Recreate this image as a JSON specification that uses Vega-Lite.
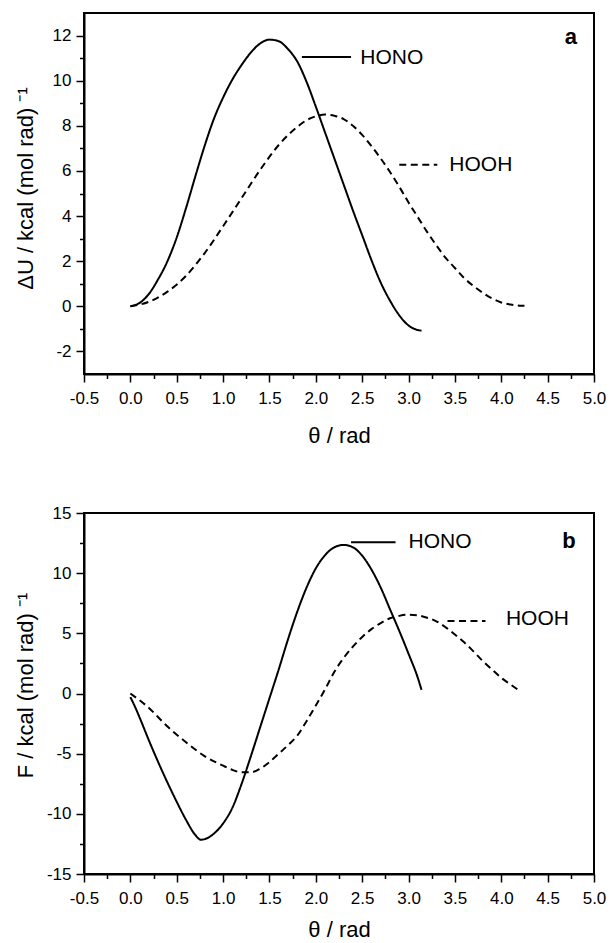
{
  "$schema": "https://vega.github.io/schema/vega-lite/v6.json",
  "padding": {"left": 13, "top": 12, "right": 8, "bottom": 2},
  "background": "white",
  "config": {
    "view": {"stroke": "black", "strokeWidth": 2},
    "font": "Liberation Sans",
    "axis": {
      "grid": false,
      "domainColor": "black",
      "domainWidth": 2,
      "tickColor": "black",
      "tickWidth": 1.5,
      "labelColor": "black",
      "titleColor": "black",
      "labelFont": "Liberation Sans",
      "labelFontSize": 17,
      "titleFont": "Liberation Sans",
      "titleFontSize": 22,
      "titleFontWeight": "normal"
    }
  },
  "datasets": {
    "curvesA": [
      {"molecule": "HONO", "theta": 0, "value": 0},
      {"molecule": "HONO", "theta": 0.1, "value": 0.15},
      {"molecule": "HONO", "theta": 0.2, "value": 0.55},
      {"molecule": "HONO", "theta": 0.3, "value": 1.2},
      {"molecule": "HONO", "theta": 0.4, "value": 2.0},
      {"molecule": "HONO", "theta": 0.5, "value": 3.05},
      {"molecule": "HONO", "theta": 0.6, "value": 4.35},
      {"molecule": "HONO", "theta": 0.7, "value": 5.75},
      {"molecule": "HONO", "theta": 0.8, "value": 7.1},
      {"molecule": "HONO", "theta": 0.9, "value": 8.3},
      {"molecule": "HONO", "theta": 1.0, "value": 9.25},
      {"molecule": "HONO", "theta": 1.1, "value": 10.05},
      {"molecule": "HONO", "theta": 1.2, "value": 10.7},
      {"molecule": "HONO", "theta": 1.3, "value": 11.25},
      {"molecule": "HONO", "theta": 1.4, "value": 11.65},
      {"molecule": "HONO", "theta": 1.5, "value": 11.82},
      {"molecule": "HONO", "theta": 1.6, "value": 11.75},
      {"molecule": "HONO", "theta": 1.7, "value": 11.4},
      {"molecule": "HONO", "theta": 1.8, "value": 10.85},
      {"molecule": "HONO", "theta": 1.9, "value": 9.95},
      {"molecule": "HONO", "theta": 2.0, "value": 8.85},
      {"molecule": "HONO", "theta": 2.1, "value": 7.7},
      {"molecule": "HONO", "theta": 2.2, "value": 6.55},
      {"molecule": "HONO", "theta": 2.3, "value": 5.4},
      {"molecule": "HONO", "theta": 2.4, "value": 4.25},
      {"molecule": "HONO", "theta": 2.5, "value": 3.15},
      {"molecule": "HONO", "theta": 2.6, "value": 2.05},
      {"molecule": "HONO", "theta": 2.7, "value": 1.05},
      {"molecule": "HONO", "theta": 2.8, "value": 0.25},
      {"molecule": "HONO", "theta": 2.9, "value": -0.4},
      {"molecule": "HONO", "theta": 3.0, "value": -0.85},
      {"molecule": "HONO", "theta": 3.1, "value": -1.05},
      {"molecule": "HONO", "theta": 3.14, "value": -1.08},
      {"molecule": "HOOH", "theta": 0, "value": 0},
      {"molecule": "HOOH", "theta": 0.2, "value": 0.2},
      {"molecule": "HOOH", "theta": 0.4, "value": 0.65},
      {"molecule": "HOOH", "theta": 0.6, "value": 1.35},
      {"molecule": "HOOH", "theta": 0.8, "value": 2.35},
      {"molecule": "HOOH", "theta": 1.0, "value": 3.55},
      {"molecule": "HOOH", "theta": 1.2, "value": 4.8},
      {"molecule": "HOOH", "theta": 1.4, "value": 6.05},
      {"molecule": "HOOH", "theta": 1.6, "value": 7.15},
      {"molecule": "HOOH", "theta": 1.8, "value": 7.95},
      {"molecule": "HOOH", "theta": 1.9, "value": 8.25},
      {"molecule": "HOOH", "theta": 2.0, "value": 8.42},
      {"molecule": "HOOH", "theta": 2.1, "value": 8.5},
      {"molecule": "HOOH", "theta": 2.2, "value": 8.45},
      {"molecule": "HOOH", "theta": 2.3, "value": 8.3},
      {"molecule": "HOOH", "theta": 2.4, "value": 8.0},
      {"molecule": "HOOH", "theta": 2.5, "value": 7.6},
      {"molecule": "HOOH", "theta": 2.6, "value": 7.1},
      {"molecule": "HOOH", "theta": 2.7, "value": 6.55},
      {"molecule": "HOOH", "theta": 2.8, "value": 5.95},
      {"molecule": "HOOH", "theta": 2.9, "value": 5.3},
      {"molecule": "HOOH", "theta": 3.0, "value": 4.6},
      {"molecule": "HOOH", "theta": 3.1, "value": 3.95},
      {"molecule": "HOOH", "theta": 3.2, "value": 3.3},
      {"molecule": "HOOH", "theta": 3.3, "value": 2.7},
      {"molecule": "HOOH", "theta": 3.4, "value": 2.15},
      {"molecule": "HOOH", "theta": 3.5, "value": 1.7},
      {"molecule": "HOOH", "theta": 3.6, "value": 1.25},
      {"molecule": "HOOH", "theta": 3.7, "value": 0.9},
      {"molecule": "HOOH", "theta": 3.8, "value": 0.6},
      {"molecule": "HOOH", "theta": 3.9, "value": 0.35},
      {"molecule": "HOOH", "theta": 4.0, "value": 0.17},
      {"molecule": "HOOH", "theta": 4.1, "value": 0.08},
      {"molecule": "HOOH", "theta": 4.2, "value": 0.03},
      {"molecule": "HOOH", "theta": 4.25, "value": 0.02}
    ],
    "curvesB": [
      {"molecule": "HONO", "theta": 0, "value": -0.3},
      {"molecule": "HONO", "theta": 0.05, "value": -1.1},
      {"molecule": "HONO", "theta": 0.1, "value": -2.0},
      {"molecule": "HONO", "theta": 0.2, "value": -3.9},
      {"molecule": "HONO", "theta": 0.3, "value": -5.7},
      {"molecule": "HONO", "theta": 0.4, "value": -7.4},
      {"molecule": "HONO", "theta": 0.5, "value": -9.0},
      {"molecule": "HONO", "theta": 0.6, "value": -10.5},
      {"molecule": "HONO", "theta": 0.7, "value": -11.75},
      {"molecule": "HONO", "theta": 0.76, "value": -12.15},
      {"molecule": "HONO", "theta": 0.82, "value": -12.05},
      {"molecule": "HONO", "theta": 0.9, "value": -11.65},
      {"molecule": "HONO", "theta": 1.0, "value": -10.8},
      {"molecule": "HONO", "theta": 1.1, "value": -9.5},
      {"molecule": "HONO", "theta": 1.2, "value": -7.5},
      {"molecule": "HONO", "theta": 1.3, "value": -5.2},
      {"molecule": "HONO", "theta": 1.4, "value": -2.8},
      {"molecule": "HONO", "theta": 1.5, "value": -0.4},
      {"molecule": "HONO", "theta": 1.6, "value": 2.0},
      {"molecule": "HONO", "theta": 1.7, "value": 4.5},
      {"molecule": "HONO", "theta": 1.8, "value": 6.8},
      {"molecule": "HONO", "theta": 1.9, "value": 8.8},
      {"molecule": "HONO", "theta": 2.0, "value": 10.4},
      {"molecule": "HONO", "theta": 2.1, "value": 11.5},
      {"molecule": "HONO", "theta": 2.2, "value": 12.15},
      {"molecule": "HONO", "theta": 2.3, "value": 12.35},
      {"molecule": "HONO", "theta": 2.4, "value": 12.15},
      {"molecule": "HONO", "theta": 2.5, "value": 11.45},
      {"molecule": "HONO", "theta": 2.6, "value": 10.3},
      {"molecule": "HONO", "theta": 2.7, "value": 8.8},
      {"molecule": "HONO", "theta": 2.8, "value": 7.0},
      {"molecule": "HONO", "theta": 2.9, "value": 5.2},
      {"molecule": "HONO", "theta": 3.0, "value": 3.3},
      {"molecule": "HONO", "theta": 3.1, "value": 1.3},
      {"molecule": "HONO", "theta": 3.14, "value": 0.3},
      {"molecule": "HOOH", "theta": 0, "value": 0},
      {"molecule": "HOOH", "theta": 0.2, "value": -1.2},
      {"molecule": "HOOH", "theta": 0.4, "value": -2.75},
      {"molecule": "HOOH", "theta": 0.6, "value": -4.05},
      {"molecule": "HOOH", "theta": 0.8, "value": -5.2},
      {"molecule": "HOOH", "theta": 1.0, "value": -6.0},
      {"molecule": "HOOH", "theta": 1.1, "value": -6.35},
      {"molecule": "HOOH", "theta": 1.2, "value": -6.55},
      {"molecule": "HOOH", "theta": 1.3, "value": -6.55},
      {"molecule": "HOOH", "theta": 1.4, "value": -6.25},
      {"molecule": "HOOH", "theta": 1.5, "value": -5.7},
      {"molecule": "HOOH", "theta": 1.6, "value": -5.0},
      {"molecule": "HOOH", "theta": 1.7, "value": -4.3},
      {"molecule": "HOOH", "theta": 1.8, "value": -3.5},
      {"molecule": "HOOH", "theta": 1.9, "value": -2.3},
      {"molecule": "HOOH", "theta": 2.0, "value": -1.0},
      {"molecule": "HOOH", "theta": 2.1, "value": 0.35},
      {"molecule": "HOOH", "theta": 2.2, "value": 1.8},
      {"molecule": "HOOH", "theta": 2.3, "value": 2.95},
      {"molecule": "HOOH", "theta": 2.4, "value": 3.9},
      {"molecule": "HOOH", "theta": 2.5, "value": 4.7},
      {"molecule": "HOOH", "theta": 2.6, "value": 5.35},
      {"molecule": "HOOH", "theta": 2.7, "value": 5.85},
      {"molecule": "HOOH", "theta": 2.8, "value": 6.25},
      {"molecule": "HOOH", "theta": 2.9, "value": 6.45},
      {"molecule": "HOOH", "theta": 3.0, "value": 6.55},
      {"molecule": "HOOH", "theta": 3.1, "value": 6.5},
      {"molecule": "HOOH", "theta": 3.2, "value": 6.3},
      {"molecule": "HOOH", "theta": 3.3, "value": 6.0},
      {"molecule": "HOOH", "theta": 3.4, "value": 5.5},
      {"molecule": "HOOH", "theta": 3.5, "value": 4.9},
      {"molecule": "HOOH", "theta": 3.6, "value": 4.25},
      {"molecule": "HOOH", "theta": 3.7, "value": 3.5},
      {"molecule": "HOOH", "theta": 3.8, "value": 2.7},
      {"molecule": "HOOH", "theta": 3.9, "value": 2.0},
      {"molecule": "HOOH", "theta": 4.0, "value": 1.3},
      {"molecule": "HOOH", "theta": 4.1, "value": 0.75},
      {"molecule": "HOOH", "theta": 4.2, "value": 0.2}
    ],
    "keyLinesA": [
      {"molecule": "HONO", "theta": 1.85, "value": 11.05},
      {"molecule": "HONO", "theta": 2.38, "value": 11.05},
      {"molecule": "HOOH", "theta": 2.9, "value": 6.27},
      {"molecule": "HOOH", "theta": 3.31, "value": 6.27}
    ],
    "keyTextA": [
      {"label": "HONO", "theta": 2.48, "value": 10.75},
      {"label": "HOOH", "theta": 3.44, "value": 6.0}
    ],
    "panelA": [{"label": "a", "theta": 4.75, "value": 11.64}],
    "keyLinesB": [
      {"molecule": "HONO", "theta": 2.38, "value": 12.56},
      {"molecule": "HONO", "theta": 2.86, "value": 12.56},
      {"molecule": "HOOH", "theta": 3.42, "value": 6.02},
      {"molecule": "HOOH", "theta": 3.83, "value": 6.02}
    ],
    "keyTextB": [
      {"label": "HONO", "theta": 3.0, "value": 12.09},
      {"label": "HOOH", "theta": 4.05, "value": 5.69}
    ],
    "panelB": [{"label": "b", "theta": 4.73, "value": 12.09}]
  },
  "bounds": "flush",
  "spacing": 139,
  "vconcat": [
    {
      "width": 510,
      "height": 361,
      "resolve": {"axis": {"x": "independent", "y": "independent"}},
      "layer": [
        {
          "data": {"name": "curvesA"},
          "mark": {"type": "line", "color": "black", "strokeWidth": 2, "interpolate": "monotone"},
          "encoding": {
            "x": {
              "field": "theta", "type": "quantitative",
              "scale": {"domain": [-0.5, 5], "nice": false, "zero": false},
              "axis": {
                "orient": "bottom",
                "values": [-0.5, 0, 0.5, 1, 1.5, 2, 2.5, 3, 3.5, 4, 4.5, 5],
                "labelExpr": "(datum.value < 0 ? '-' : '') + format(abs(datum.value), '.1f')",
                "tickSize": 8, "labelPadding": 8, "labelFlush": false, "labelOverlap": false,
                "title": "θ / rad", "titleY": 68, "titleBaseline": "alphabetic"
              }
            },
            "y": {
              "field": "value", "type": "quantitative",
              "scale": {"domain": [-3, 13], "nice": false, "zero": false},
              "axis": {
                "orient": "left",
                "values": [-2, 0, 2, 4, 6, 8, 10, 12],
                "labelExpr": "(datum.value < 0 ? '-' : '') + format(abs(datum.value), 'd')",
                "tickSize": 8, "labelPadding": 5, "labelFlush": false, "labelOverlap": false,
                "title": "ΔU / kcal (mol rad) ⁻¹", "titleAngle": 270, "titleBaseline": "alphabetic",
                "titleX": -52, "titleY": 175
              }
            },
            "strokeDash": {
              "field": "molecule", "type": "nominal",
              "scale": {"domain": ["HONO", "HOOH"], "range": [[1, 0], [7, 4.5]]},
              "legend": null
            }
          }
        },
        {
          "data": {"name": "keyLinesA"},
          "mark": {"type": "line", "color": "black", "strokeWidth": 2},
          "encoding": {
            "x": {
              "field": "theta", "type": "quantitative",
              "axis": {
                "orient": "bottom",
                "values": [-0.25, 0.25, 0.75, 1.25, 1.75, 2.25, 2.75, 3.25, 3.75, 4.25, 4.75],
                "tickSize": 4.5, "labels": false, "domain": false, "title": null
              }
            },
            "y": {
              "field": "value", "type": "quantitative",
              "axis": {
                "orient": "left",
                "values": [-1, 1, 3, 5, 7, 9, 11],
                "tickSize": 4.5, "labels": false, "domain": false, "title": null
              }
            },
            "strokeDash": {
              "field": "molecule", "type": "nominal",
              "scale": {"domain": ["HONO", "HOOH"], "range": [[1, 0], [7, 4.5]]},
              "legend": null
            }
          }
        },
        {
          "data": {"name": "keyTextA"},
          "mark": {"type": "text", "align": "left", "baseline": "alphabetic", "fontSize": 21, "font": "Liberation Sans", "color": "black"},
          "encoding": {
            "x": {"field": "theta", "type": "quantitative", "axis": null},
            "y": {"field": "value", "type": "quantitative", "axis": null},
            "text": {"field": "label", "type": "nominal"}
          }
        },
        {
          "data": {"name": "panelA"},
          "mark": {"type": "text", "align": "center", "baseline": "alphabetic", "fontSize": 22, "fontWeight": "bold", "font": "Liberation Sans", "color": "black"},
          "encoding": {
            "x": {"field": "theta", "type": "quantitative", "axis": null},
            "y": {"field": "value", "type": "quantitative", "axis": null},
            "text": {"field": "label", "type": "nominal"}
          }
        }
      ]
    },
    {
      "width": 510,
      "height": 361,
      "resolve": {"axis": {"x": "independent", "y": "independent"}},
      "layer": [
        {
          "data": {"name": "curvesB"},
          "mark": {"type": "line", "color": "black", "strokeWidth": 2, "interpolate": "monotone"},
          "encoding": {
            "x": {
              "field": "theta", "type": "quantitative",
              "scale": {"domain": [-0.5, 5], "nice": false, "zero": false},
              "axis": {
                "orient": "bottom",
                "values": [-0.5, 0, 0.5, 1, 1.5, 2, 2.5, 3, 3.5, 4, 4.5, 5],
                "labelExpr": "(datum.value < 0 ? '-' : '') + format(abs(datum.value), '.1f')",
                "tickSize": 8, "labelPadding": 8, "labelFlush": false, "labelOverlap": false,
                "title": "θ / rad", "titleY": 62, "titleBaseline": "alphabetic"
              }
            },
            "y": {
              "field": "value", "type": "quantitative",
              "scale": {"domain": [-15, 15], "nice": false, "zero": false},
              "axis": {
                "orient": "left",
                "values": [-15, -10, -5, 0, 5, 10, 15],
                "labelExpr": "(datum.value < 0 ? '-' : '') + format(abs(datum.value), 'd')",
                "tickSize": 8, "labelPadding": 5, "labelFlush": false, "labelOverlap": false,
                "title": "F / kcal (mol rad) ⁻¹", "titleAngle": 270, "titleBaseline": "alphabetic",
                "titleX": -52, "titleY": 172
              }
            },
            "strokeDash": {
              "field": "molecule", "type": "nominal",
              "scale": {"domain": ["HONO", "HOOH"], "range": [[1, 0], [7, 4.5]]},
              "legend": null
            }
          }
        },
        {
          "data": {"name": "keyLinesB"},
          "mark": {"type": "line", "color": "black", "strokeWidth": 2},
          "encoding": {
            "x": {
              "field": "theta", "type": "quantitative",
              "axis": {
                "orient": "bottom",
                "values": [-0.25, 0.25, 0.75, 1.25, 1.75, 2.25, 2.75, 3.25, 3.75, 4.25, 4.75],
                "tickSize": 4.5, "labels": false, "domain": false, "title": null
              }
            },
            "y": {
              "field": "value", "type": "quantitative",
              "axis": {
                "orient": "left",
                "values": [-12.5, -7.5, -2.5, 2.5, 7.5, 12.5],
                "tickSize": 4.5, "labels": false, "domain": false, "title": null
              }
            },
            "strokeDash": {
              "field": "molecule", "type": "nominal",
              "scale": {"domain": ["HONO", "HOOH"], "range": [[1, 0], [7, 4.5]]},
              "legend": null
            }
          }
        },
        {
          "data": {"name": "keyTextB"},
          "mark": {"type": "text", "align": "left", "baseline": "alphabetic", "fontSize": 21, "font": "Liberation Sans", "color": "black"},
          "encoding": {
            "x": {"field": "theta", "type": "quantitative", "axis": null},
            "y": {"field": "value", "type": "quantitative", "axis": null},
            "text": {"field": "label", "type": "nominal"}
          }
        },
        {
          "data": {"name": "panelB"},
          "mark": {"type": "text", "align": "center", "baseline": "alphabetic", "fontSize": 22, "fontWeight": "bold", "font": "Liberation Sans", "color": "black"},
          "encoding": {
            "x": {"field": "theta", "type": "quantitative", "axis": null},
            "y": {"field": "value", "type": "quantitative", "axis": null},
            "text": {"field": "label", "type": "nominal"}
          }
        }
      ]
    }
  ]
}
